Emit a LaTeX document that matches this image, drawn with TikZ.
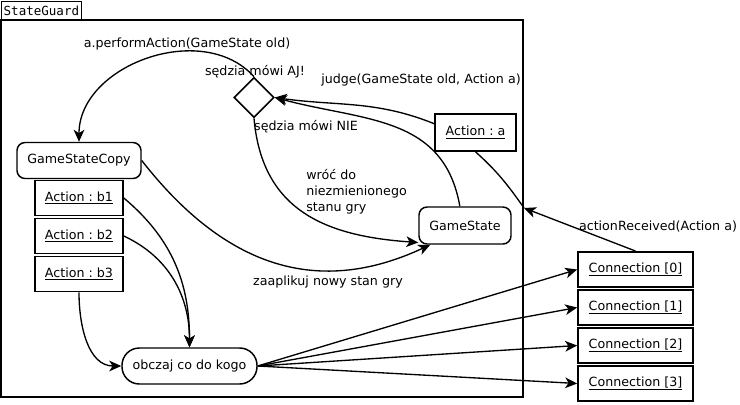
\documentclass[tikz,border=0pt]{standalone}
\usepackage{fontspec}
\setmainfont{DejaVu Sans}
\setmonofont{DejaVu Sans Mono}
\usetikzlibrary{arrows.meta,shapes.geometric}
\frenchspacing

\begin{document}
\begin{tikzpicture}[x=0.75pt,y=-0.75pt,
    font=\fontsize{9.5}{12}\selectfont,
    obj/.style={rectangle,draw,line width=1.2pt,inner sep=0pt,minimum height=26.5pt},
    state/.style={rectangle,draw,rounded corners=6pt,line width=1.1pt,inner sep=0pt,minimum height=27pt},
    flow/.style={-{Stealth[length=9pt,width=8pt,inset=2.5pt]},line width=1pt},
    lbl/.style={inner sep=0pt}]
    \useasboundingbox (0,0) rectangle (740,404);

    % frame of the state guard
    \node[draw,line width=1pt,anchor=north west,minimum height=14.25pt,text width=57pt,
          inner xsep=1.5pt,inner ysep=0pt,font=\ttfamily\fontsize{9.4}{11}\selectfont] (tab) at (1,1) {StateGuard};
    \draw[line width=1.4pt] (1,20) rectangle (523,397);

    % objects
    \node[state,minimum width=93pt] (gsc) at (79,160.5) {GameStateCopy};
    \node[obj,minimum width=66pt] (b1) at (79,198) {\underline{Action : b1}};
    \node[obj,minimum width=66pt] (b2) at (79,236) {\underline{Action : b2}};
    \node[obj,minimum width=66pt] (b3) at (79,274) {\underline{Action : b3}};
    \node[state,rounded corners=13pt,minimum width=101.25pt] (ob) at (189.5,366) {obczaj co do kogo};
    \node[diamond,draw,line width=1.2pt,inner sep=0pt,minimum width=30pt,minimum height=30pt] (dia) at (254,97.5) {};
    \node[state,minimum width=69pt,minimum height=27.75pt] (gs) at (465,225.5) {GameState};
    \node[obj,minimum width=60.75pt,minimum height=27.75pt] (aa) at (475.5,132.5) {\underline{Action : a}};

    \node[obj,minimum width=86.25pt] (c0) at (635.5,269.5) {\underline{Connection [0]}};
    \node[obj,minimum width=86.25pt] (c1) at (635.5,307.5) {\underline{Connection [1]}};
    \node[obj,minimum width=86.25pt] (c2) at (635.5,345.5) {\underline{Connection [2]}};
    \node[obj,minimum width=86.25pt] (c3) at (635.5,383.5) {\underline{Connection [3]}};

    \coordinate (recv) at (524,208);

    % connectors
    \draw[flow] (dia.north) to[out=132,in=90,looseness=1.05] (gsc.north);
    \draw[flow] (aa.168) to[out=158,in=-8] (dia.east);
    \draw[flow] (gs.105) to[out=100,in=-15,looseness=1.1] (dia.east);
    \draw[flow] (dia.south) to[out=-85,in=176,looseness=1.15] (gs.200);
    \draw[flow] (gsc.east) to[out=-52,in=-155,looseness=1.1] (gs.209);

    \draw[flow] (b1.east) to[out=-40,in=90] (ob.north);
    \draw[flow] (b2.east) to[out=-25,in=90] (ob.north);
    \draw[flow] (b3.south) to[out=-90,in=180] (ob.west);

    \draw[flow] (ob.east) -- (c0.west);
    \draw[flow] (ob.east) -- (c1.west);
    \draw[flow] (ob.east) -- (c2.west);
    \draw[flow] (ob.east) -- (c3.west);

    \draw[flow] (c0.north) -- (recv);
    \draw[line width=1pt] (aa.south) to[out=-42,in=125] (recv);

    % labels
    \node[lbl] (lperf) at (187,44) {a.performAction(GameState old)};
    \node[lbl] (lyes) at (255,72) {sędzia mówi AJ!};
    \node[lbl] (ljudge) at (421,80) {judge(GameState old, Action a)};
    \node[lbl] (lno) at (306,127) {sędzia mówi NIE};
    \node[lbl,anchor=west,align=left] (lback) at (306,192) {wróć do\\niezmienionego\\stanu gry};
    \node[lbl] (lapply) at (328,282) {zaaplikuj nowy stan gry};
    \node[lbl] (lrecv) at (658,227) {actionReceived(Action a)};
\end{tikzpicture}
\end{document}
